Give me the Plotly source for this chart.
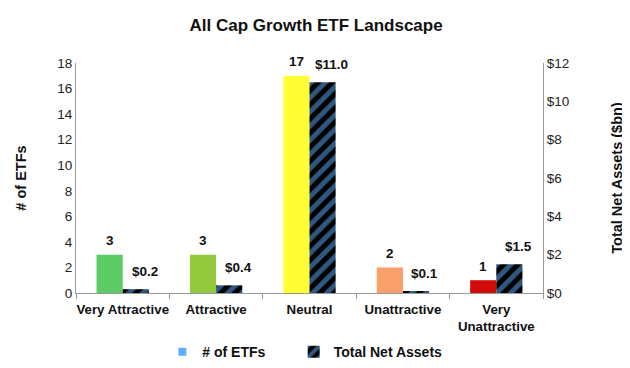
import plotly.graph_objects as go

categories = ["Very Attractive", "Attractive", "Neutral", "Unattractive", "Very<br>Unattractive"]
num_etfs = [3, 3, 17, 2, 1]
net_assets = [0.2, 0.4, 11.0, 0.1, 1.5]
bar_colors = ["#5CCB63", "#94C83D", "#FFFF33", "#F9A06A", "#D10A0A"]
left_ticks = [0, 2, 4, 6, 8, 10, 12, 14, 16, 18]
right_ticks = [0, 2, 4, 6, 8, 10, 12]
right_labels = ["$0", "$2", "$4", "$6", "$8", "$10", "$12"]

FONT = "Liberation Sans, Arial, sans-serif"
fig = go.Figure()

fig.add_trace(go.Bar(
    x=categories, y=num_etfs, name="# of ETFs", yaxis="y",
    marker=dict(color=bar_colors, line=dict(width=0)),
    width=0.28, offset=-0.28, showlegend=False,
))
fig.add_trace(go.Bar(
    x=categories, y=net_assets, name="<b>Total Net Assets</b>", yaxis="y2",
    marker=dict(color="black", line=dict(width=0),
                pattern=dict(shape="/", fgcolor="#5EB0FF", bgcolor="black",
                             size=10, solidity=0.5)),
    width=0.28, offset=0.0, showlegend=True,
))
fig.add_trace(go.Scatter(
    x=[None], y=[None], mode="markers",
    name="<b># of ETFs</b>&nbsp;&nbsp;&nbsp;&nbsp;&nbsp;&nbsp;",
    marker=dict(symbol="square", size=8, color="#5EB0FF"),
    showlegend=True,
))

annotations = []
for c, v in zip(categories, num_etfs):
    annotations.append(dict(x=c, y=v, xref="x", yref="y", text=f"<b>{v}</b>",
                            showarrow=False, xshift=-13, yshift=14,
                            font=dict(size=13.5, color="#111", family=FONT)))
for c, v in zip(categories, net_assets):
    annotations.append(dict(x=c, y=v, xref="x", yref="y2", text=f"<b>${v:.1f}</b>",
                            showarrow=False, xshift=22, yshift=18,
                            font=dict(size=13.5, color="#111", family=FONT)))

fig.update_layout(
    width=630, height=368,
    margin=dict(l=68, r=95, t=55, b=83, autoexpand=False),
    paper_bgcolor="white", plot_bgcolor="white",
    font=dict(family=FONT, size=12, color="#222"),
    title=dict(text="<b>All Cap Growth ETF Landscape</b>", x=0.489, xanchor="center",
               y=0.954, yanchor="middle", automargin=False,
               font=dict(size=17, color="#111", family=FONT)),
    barmode="overlay",
    xaxis=dict(showgrid=False, showline=True, linecolor="#999", linewidth=1,
               ticks="outside", tickson="boundaries", ticklen=5, tickcolor="#999",
               tickfont=dict(size=13.3, color="#111", family=FONT), tickangle=0,
               ticklabelstandoff=4, automargin=False),
    yaxis=dict(range=[0, 18], tickvals=left_ticks, showgrid=False, showline=True,
               linecolor="#999", linewidth=1, zeroline=False, automargin=False,
               tickfont=dict(size=13.5, color="#222"),
               title=dict(text="<b># of ETFs</b>", font=dict(size=14.5, color="#111"), standoff=27)),
    yaxis2=dict(range=[0, 12], tickvals=right_ticks, ticktext=right_labels,
                overlaying="y", side="right", showgrid=False, showline=True,
                linecolor="#999", linewidth=1, zeroline=False, automargin=False,
                tickfont=dict(size=13.5, color="#222"),
                title=dict(text="<b>Total Net Assets ($bn)</b>", font=dict(size=14.5, color="#111"), standoff=43)),
    legend=dict(orientation="h", x=0.49, xanchor="center", xref="paper",
                y=0.065, yanchor="middle", yref="container",
                font=dict(size=14, color="#111"), traceorder="reversed"),
    annotations=annotations,
)
# make tick labels bold
fig.update_xaxes(ticktext=[f"<b>{c}</b>" for c in categories], tickvals=categories)

fig.write_html("out.html")
